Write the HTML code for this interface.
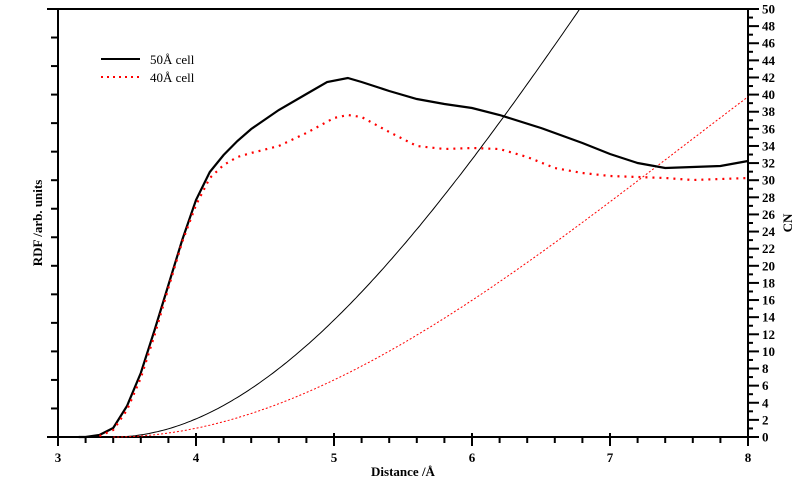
<!DOCTYPE html>
<html><head><meta charset="utf-8"><style>
html,body{margin:0;padding:0;background:#fff}
svg{display:block}
text{font-family:"Liberation Serif",serif}
</style></head><body>
<svg id="s" width="800" height="480" xmlns="http://www.w3.org/2000/svg">
<g stroke="#000" stroke-width="2" fill="none">
<line x1="47" y1="9" x2="748" y2="9"/>
<line x1="47" y1="437" x2="748" y2="437"/>
<line x1="58" y1="9" x2="58" y2="445"/>
<line x1="748" y1="9" x2="748" y2="445"/>
</g>
<g id="ticks" stroke="#000" stroke-width="2"></g>
<g id="labels" font-weight="bold" font-size="13"></g>
<text x="403" y="476" text-anchor="middle" font-weight="bold" font-size="13">Distance /Å</text>
<text transform="translate(42,223) rotate(-90)" text-anchor="middle" font-weight="bold" font-size="13">RDF /arb. units</text>
<text transform="translate(792,223) rotate(-90)" text-anchor="middle" font-weight="bold" font-size="13">CN</text>
<line x1="101" y1="59" x2="140" y2="59" stroke="#000" stroke-width="2"/>
<line x1="101" y1="77" x2="140" y2="77" stroke="#f00" stroke-width="2" stroke-dasharray="2,4"/>
<text x="150" y="64" font-size="13">50Å cell</text>
<text x="150" y="82" font-size="13">40Å cell</text>
<path id="cnb" fill="none" stroke="#000" stroke-width="1"/>
<path id="cnr" fill="none" stroke="#f00" stroke-width="1" stroke-dasharray="2,2"/>
<path id="b" fill="none" stroke="#000" stroke-width="2.2"/>
<path id="r" fill="none" stroke="#f00" stroke-width="2.2" stroke-dasharray="2,5"/>
</svg>
<script>
var X=function(r){return 58+(r-3)*138};
var t=document.getElementById('ticks'),L=document.getElementById('labels'),h='',l='';
for(var i=0;i<=15;i++){var y=437-i*428/15;h+='<line x1="51" y1="'+y+'" x2="58" y2="'+y+'"/>';}
for(var v=0;v<=50;v++){var y=437-v*8.56;var len=v%2==0?11:5;h+='<line x1="748" y1="'+y+'" x2="'+(748+len)+'" y2="'+y+'"/>';if(v%2==0)l+='<text x="762" y="'+(y+4.5)+'">'+v+'</text>';}
for(var k=0;k<=25;k++){var x=58+k*27.6;if(k%5==0){h+='<line x1="'+x+'" y1="433" x2="'+x+'" y2="446"/>';l+='<text x="'+x+'" y="462" text-anchor="middle">'+(3+k/5)+'</text>';}else h+='<line x1="'+x+'" y1="437" x2="'+x+'" y2="443"/>';}
t.innerHTML=h;L.innerHTML=l;
function path(a){return a.map(function(p,i){return(i?'L':'M')+X(p[0]).toFixed(1)+','+p[1]}).join(' ')}
var b=[[3.15,437],[3.2,437],[3.3,435],[3.4,428],[3.5,406],[3.6,373],[3.7,330],[3.8,285],[3.9,240],[4.0,200],[4.1,172],[4.2,155],[4.3,141],[4.4,129],[4.6,110],[4.8,94],[4.95,82],[5.1,78],[5.2,82],[5.4,91],[5.6,99],[5.8,104],[6.0,108],[6.2,115],[6.5,128],[6.8,143],[7.0,154],[7.2,163],[7.4,168],[7.6,167],[7.8,166],[8.0,161]];
var r=[[3.3,436],[3.4,430],[3.5,410],[3.6,378],[3.7,335],[3.8,288],[3.9,242],[4.0,205],[4.1,178],[4.2,165],[4.3,157],[4.4,153],[4.6,146],[4.8,133],[5.0,118],[5.1,115],[5.2,117],[5.4,132],[5.6,146],[5.8,149],[6.0,148],[6.2,149],[6.4,157],[6.6,168],[6.8,173],[7.0,176],[7.2,177],[7.4,178],[7.6,180],[8.0,178]];
document.getElementById('b').setAttribute('d',path(b));
document.getElementById('r').setAttribute('d',path(r));
var cb=[],cr=[];
for(var x=3.4;x<=8.001;x+=0.02){var u=x-3.4;var yb=437-(53.1*u*u-4.63*u*u*u);if(yb>=9)cb.push([x,yb.toFixed(1)]);cr.push([x,(437-(25.6*u*u-2.07*u*u*u)).toFixed(1)]);}
document.getElementById('cnb').setAttribute('d',path(cb));
document.getElementById('cnr').setAttribute('d',path(cr));
</script>
</body></html>
